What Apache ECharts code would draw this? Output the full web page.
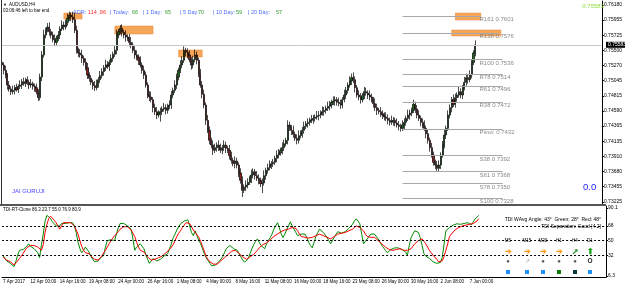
<!DOCTYPE html>
<html>
<head>
<meta charset="utf-8">
<script src="https://cdn.jsdelivr.net/npm/echarts@6/dist/echarts.min.js"></script>
<style>
html, body { margin: 0; padding: 0; background: #fff; }
#chart { width: 625px; height: 286px; }
</style>
</head>
<body>
<div id="chart"></div>
<script>
// AUDUSD H4, prices in pips (7528 -> 0.7528)
var firstOpen = 7532;
var closes = [
    7528,7520,7513,7498,7492,7488,7490,7494,7491,7496,
    7498,7503,7500,7506,7502,7498,7500,7496,7494,7488,
    7479,7510,7543,7573,7580,7585,7578,7573,7566,7562,
    7568,7573,7582,7588,7585,7592,7598,7603,7600,7596,
    7580,7550,7546,7543,7538,7532,7524,7513,7508,7502,
    7497,7494,7500,7506,7512,7518,7524,7528,7526,7532,
    7538,7544,7550,7573,7578,7583,7577,7573,7570,7568,
    7562,7558,7550,7543,7540,7535,7528,7520,7513,7498,
    7483,7480,7476,7464,7458,7453,7456,7458,7462,7464,
    7460,7466,7468,7483,7490,7498,7510,7520,7528,7535,
    7550,7547,7543,7536,7528,7536,7543,7535,7515,7498,
    7484,7468,7445,7430,7415,7408,7400,7404,7408,7404,
    7400,7404,7408,7403,7400,7392,7385,7380,7384,7378,
    7366,7355,7340,7345,7348,7352,7358,7363,7368,7362,
    7358,7355,7350,7351,7362,7370,7374,7378,7380,7382,
    7388,7393,7396,7400,7404,7410,7415,7438,7434,7430,
    7424,7418,7415,7422,7426,7430,7436,7440,7442,7445,
    7446,7448,7450,7452,7453,7456,7458,7460,7463,7466,
    7468,7472,7474,7476,7472,7470,7468,7476,7483,7490,
    7498,7504,7509,7506,7494,7483,7480,7476,7482,7488,
    7486,7483,7480,7476,7470,7464,7460,7458,7455,7453,
    7450,7448,7445,7442,7444,7445,7441,7438,7436,7433,
    7438,7442,7448,7453,7456,7460,7469,7462,7453,7448,
    7442,7438,7433,7425,7415,7404,7393,7382,7378,7373,
    7378,7393,7408,7423,7433,7453,7464,7476,7469,7479,
    7483,7488,7483,7494,7502,7509,7506,7513,7532,7546,
    7558
];
var upperWick = [
    5,4,7,3,6,4,7,4,6,3, 7,4,6,3,5,4,7,3,4,6, 4,5,6,8,4,6,7,4,5,8,
    4,6,4,7,5,4,7,5,4,8, 10,7,4,6,8,4,6,7,4,5, 4,7,6,4,7,5,4,8,6,4,
    6,4,7,8,4,5,6,4,7,4, 6,8,4,6,7,4,6,4,7,5, 4,6,8,4,6,7,4,6,4,7,
    5,4,7,6,4,7,5,4,7,6, 6,4,6,7,4,6,8,5,4,7, 6,7,4,8,6,4,7,6,4,7,
    6,4,7,5,4,8,6,4,7,5, 4,7,6,4,7,6,4,8,5,4, 7,6,4,7,8,4,6,7,4,5,
    4,7,6,4,8,6,4,7,5,4, 7,4,6,8,4,5,7,4,6,4, 7,5,4,7,6,4,8,5,4,7,
    6,4,7,5,4,7,6,4,8,5, 4,7,6,8,5,4,7,6,4,7, 6,4,7,5,4,8,6,4,7,5,
    4,7,6,4,8,5,4,7,6,4, 7,6,4,8,5,4,7,4,6,7, 4,6,7,4,6,4,7,5,4,6,
    7,4,6,8,4,7,5,4,8,6, 4,7,5,4,8,6,4,7,5,4, 7
];
var lowerWick = [
    4,6,5,7,4,5,4,6,3,5, 4,6,3,5,4,6,4,5,6,4, 5,4,6,4,5,3,6,5,4,6,
    5,4,6,3,5,4,5,4,6,5, 4,5,6,4,7,5,4,6,5,4, 6,5,4,6,5,4,6,5,4,7,
    4,5,4,6,5,4,6,5,7,4, 6,5,4,6,5,7,4,5,6,4, 5,6,4,7,5,6,4,13,5,4,
    6,5,4,6,5,4,6,5,4,5, 4,6,5,4,7,5,4,6,5,4, 6,5,7,4,6,5,7,4,6,5,
    4,6,5,7,4,6,5,4,7,5, 6,5,10,4,6,5,4,7,5,6, 4,6,5,14,4,6,5,4,6,5,
    4,6,5,4,6,5,4,6,5,7, 5,4,6,5,4,7,5,4,6,5, 4,6,5,4,7,5,4,6,5,4,
    6,5,4,7,5,4,6,5,4,6, 5,4,6,5,7,4,5,6,4,5, 4,6,5,4,6,5,7,4,5,6,
    5,4,6,5,4,7,5,4,6,5, 4,6,5,4,7,5,4,6,5,4, 6,5,4,7,5,6,4,5,6,4,
    5,6,4,5,6,4,5,7,4,5, 6,4,5,6,4,5,6,4,5,4, 5
];
// TDI-RT-Clone: green price line and red signal line
var tdiGreen = [
    32,28,25,23,22,20,18,24,32,38, 37,39,38,43,46,43,42,40,38,35,
    29,45,58,74,81,82,77,73,70.6,68, 70,68,71,72,71,73,72,74,72,68,
    60,48,40,35,38,42,41,36,31,27, 24,22,25,28,30,32,42,50,49,51,
    50,50,58,66,71,73,71,70,68,66, 64,52,38,42,44,46,46,40,33,27,
    22,24,28,26,25,25.7,27,29,31,33, 34,40,46,53.6,58,63,67,70.6,72,74,
    75,75.5,68,60,56,62,56,50,46,40, 34,29,25.7,22,19,18,20,22,24,25.7,
    30,35,40,42,44,42,40,39,38,34, 30,26,23.3,23.3,28,34,40,45,49,52,
    48,44,42,40,46,50,53.6,58,64,68, 72,66,58,53.6,58,63,68,73,68,64,
    60,56,57,58,58,58,54,48,44,41, 48,55,60,64,62,60,58,54,50,46,
    50,54,58,61,60,59,58,61,63,65, 66,70,74,76.7,74,70.6,58,46,49,52,
    55,58,60,58,56,52,48,44,41,38, 35,37,39,40,41,40,41,40,39,40,
    36,32,44,53.6,58,62,64,60,53.6,44, 34,31,30,28,26,24,23,22,21,23,
    29,45,62,64,66,68,69,70,70.6,71, 70,70.6,71,72,72,70,69.5,73,76.7,79,
    80.9
];
var tdiRed = [
    30,28,26,25,24,22,20,22,25,28, 30,34,38,41,43,44,44,44,44,42,
    40,38,45,60,70,77,80,78,75,72, 68,64,68,72,72,72,73,72,72,68,
    63,58,50,43,38,35,36,34,31,29, 27,26,26,28,31,35,38,42,46,50,
    53,56,58,61,64,66,67,68,67,65, 63,62,55,48,42,38,38,36,33,30,
    28,26,26,27,28,29,30,31,33,35, 37,39,41,45,50,55,59,62,66,69,
    72,73,71,67,63,60,58,54,49,43, 37,30,27,24,22,21,20,21,23,25,
    27,29,30,33,35,37,38,38,36,34, 32,30,28,27,28,30,31,33,34,38,
    41,43,45,46,47,49,51,53,55,56, 58,60,61,62,63,63,64,65,66,65,
    65,62,58,55,55,54,54,53,54,54, 55,56,57,58,57,56,55,54,53,52,
    53,55,57,58,58,59,59,60,61,62, 62,64,66,68,67,66,65,62,58,55,
    54,54,55,54,52,50,48,46,44,42, 40,39,38,38,39,39,40,40,39,38,
    38,38,39,40,43,46,48,50,51,52, 49,46,42,38,35,32,30,27,24,22,
    25,30,38,46,55,58,60,63,65,66, 67,68,68,69,69,70,70,71,72,74,
    76.9
];
var timeLabels = ['7 Apr 2017', '12 Apr 00:00', '14 Apr 16:00', '19 Apr 08:00', '24 Apr 00:00',
    '26 Apr 16:00', '1 May 08:00', '4 May 00:00', '8 May 16:00', '11 May 08:00', '16 May 00:00',
    '18 May 16:00', '23 May 08:00', '26 May 00:00', '30 May 16:00', '2 Jun 08:00', '7 Jun 00:00'];
var priceTicks = [0.73225, 0.73455, 0.73680, 0.73910, 0.74135, 0.74365, 0.74590,
    0.74815, 0.75045, 0.75270, 0.75500, 0.75725, 0.75955, 0.76180];
var tdiTicks = [6.3, 32, 50, 68, 90.1];
var tdiLevels = [68, 50, 32];
var lastPrice = 0.75583;
// daily pivot levels (bars where each line starts / ends)
var pivotNames = ['R161', 'R138', 'R100', 'R78', 'R61', 'R38', 'Pivot:', 'S38', 'S61', 'S78', 'S100'];
var pivotValues = [0.7601, 0.7576, 0.7536, 0.7514, 0.7496, 0.7472, 0.7432, 0.7392, 0.7368, 0.7350, 0.7328];
var pivotEnd = [263, 273, 275, 275, 275, 275, 275, 275, 275, 275, 275];
var pivotStart = 220;
// supply zones (orange boxes)
var zoneFrom = [34, 62, 97, 249, 247];
var zoneTo = [44, 83, 110, 263, 274];
var zoneTop = [0.7606, 0.75865, 0.75505, 0.7606, 0.75805];
var zoneBottom = [0.7597, 0.75745, 0.75400, 0.75955, 0.75715];
var slotCount = 330;

var chart = echarts.init(document.getElementById('chart'));

var slots = [];
for (var i = 0; i < slotCount; i++) slots.push(String(i));

var candles = [];
for (var i = 0; i < closes.length; i++) {
    var o = i === 0 ? firstOpen : closes[i - 1];
    var c = closes[i];
    var h = Math.max(o, c) + upperWick[i];
    var l = Math.min(o, c) - lowerWick[i];
    candles.push([o / 10000, c / 10000, l / 10000, h / 10000]);
}

function isLabelBar(i) {
    return i === 0 || (i >= 15 && i <= 255 && (i - 15) % 16 === 0);
}
function labelFor(i) {
    return i === 0 ? timeLabels[0] : timeLabels[(i - 15) / 16 + 1];
}

var pivotLines = pivotValues.map(function (v, k) {
    return [{ coord: [pivotStart, v] }, { coord: [pivotEnd[k], v] }];
});
// current price line across the whole chart
pivotLines.push([
    { coord: [0, lastPrice], lineStyle: { color: '#c8c8c8' } },
    { coord: [slotCount - 1, lastPrice] }
]);
var pivotLabels = pivotValues.map(function (v, k) {
    return { name: pivotNames[k] + ' ' + v.toFixed(4), coord: [262, v] };
});
var zones = zoneFrom.map(function (f, k) {
    return [{ coord: [f, zoneTop[k]] }, { coord: [zoneTo[k], zoneBottom[k]] }];
});

var FONT = '"Liberation Sans", Arial, sans-serif';
function txt(x, y, text, size, color, align, bold) {
    return {
        type: 'text', x: x, y: y, z: 100,
        style: {
            text: text, fill: color, align: align || 'left', verticalAlign: 'middle',
            font: (bold ? 'bold ' : '') + size + 'px ' + FONT
        }
    };
}
function sq(cx, cy, color) {
    return { type: 'rect', z: 100, shape: { x: cx - 2, y: cy - 2, width: 4, height: 4 }, style: { fill: color } };
}

var blue = '#4b6bfb', red = '#ff2a2a', green = '#34a034';
var tfX = [508, 527, 543, 559, 575, 590];
var tfNames = ['M5', 'M15', 'M30', 'H1', 'H4', 'D1'];

var graphics = [
    { type: 'line', z: 100, shape: { x1: 1.5, y1: 0, x2: 1.5, y2: 204 }, style: { stroke: '#333', lineWidth: 1 } },
    { type: 'rect', z: 101, shape: { x: 0, y: 204, width: 606, height: 2 }, style: { fill: '#555' } },
    txt(3, 5, '\u25BC', 4, '#000'),
    txt(9, 5, 'AUDUSD,H4', 4.5, '#000'),
    txt(3, 11, '03:06:46 left to bar end', 4.5, '#000'),
    txt(73, 12, 'ADR:', 5.5, blue),
    txt(88, 12, '114 ,96', 5.5, red),
    txt(110, 12, '| Today:', 5.5, blue),
    txt(132, 12, '66', 5.5, green),
    txt(143, 12, '| 1 Day:', 5.5, blue),
    txt(165, 12, '65', 5.5, green),
    txt(180, 12, '| 5 Day:', 5.5, blue),
    txt(198, 12, '70', 5.5, green),
    txt(213, 12, '| 10 Day:', 5.5, blue),
    txt(236, 12, '59', 5.5, green),
    txt(248, 12, '| 20 Day:', 5.5, blue),
    txt(276, 12, '57', 5.5, green),
    txt(604, 6, '0.75583', 6, '#8fdc3c', 'right'),
    txt(12, 191, 'JAI GURUJI', 6, '#4a4aff'),
    txt(583, 187, '0.0', 9.5, '#1a1aff'),
    txt(3, 210, 'TDI-RT-Clone 86.3 23.7 55.0 76.9 80.9', 4.5, '#000'),
    txt(601, 220, 'TDI WAvg Angle: 43\u00B0  Green: 28\u00B0  Red: 48\u00B0', 5, '#000', 'right'),
    txt(601, 227, 'TDI Separation: Good [4.2]', 5, '#000', 'right')
];
tfNames.forEach(function (n, k) {
    graphics.push(txt(tfX[k], 241, n, 4.5, '#000', 'center'));
});
var arrows = ['\u2794', '\u2794', '\u2794', '\u2794', '\u279A', '\u2B06'];
var arrowColors = ['#ff9a1a', '#ff9a1a', '#ff9a1a', '#ff9a1a', '#1a8a1a', '#12a012'];
var dots = ['\u25CF', '\u2197', '\u25CF', '\u25CF', '\u25CF', 'O'];
var dotColors = ['#555', '#999', '#555', '#555', '#555', '#222'];
var boxColors = ['#1e8fff', '#1e8fff', '#1e8fff', '#0a7a0a', '#0d3a3a', '#1e8fff'];
tfX.forEach(function (x, k) {
    graphics.push(txt(x, 251.5, arrows[k], 8, arrowColors[k], 'center', true));
    graphics.push(txt(x, 261, dots[k], k === 5 ? 6.5 : 6, dotColors[k], 'center', k === 5));
    graphics.push(sq(x, 272, boxColors[k]));
});

var option = {
    animation: false,
    backgroundColor: '#fff',
    textStyle: { fontFamily: FONT },
    grid: [
        { left: 1, right: 19, top: 1, height: 203 },
        { left: 1, right: 19, top: 206, height: 71 }
    ],
    xAxis: [
        { type: 'category', gridIndex: 0, data: slots, show: false },
        {
            type: 'category', gridIndex: 1, data: slots,
            axisLine: { lineStyle: { color: '#000', width: 1 } },
            axisTick: { alignWithLabel: true, interval: isLabelBar, length: 2, lineStyle: { color: '#000' } },
            axisLabel: {
                interval: isLabelBar, align: 'left', margin: 2, fontSize: 4.5, color: '#000',
                formatter: function (v, idx) { return labelFor(idx); }
            },
            splitLine: { show: false }
        }
    ],
    yAxis: [
        {
            type: 'value', gridIndex: 0, position: 'right', min: 0.73195, max: 0.7624,
            axisLine: { show: true, lineStyle: { color: '#000' } },
            axisTick: { show: true, length: 2, customValues: priceTicks, lineStyle: { color: '#000' } },
            axisLabel: {
                customValues: priceTicks, fontSize: 5, margin: 2, color: '#000',
                formatter: function (v) { return v.toFixed(5); }
            },
            splitLine: { show: false }
        },
        {
            type: 'value', gridIndex: 1, position: 'right', min: 5.2, max: 92.5,
            axisLine: { show: true, lineStyle: { color: '#000' } },
            axisTick: { show: true, length: 2, customValues: tdiTicks, lineStyle: { color: '#000' } },
            axisLabel: {
                customValues: tdiTicks, fontSize: 5, margin: 2, color: '#000',
                formatter: function (v) { return String(v); }
            },
            splitLine: { show: false }
        }
    ],
    series: [
        {
            type: 'candlestick', xAxisIndex: 0, yAxisIndex: 0,
            data: candles, barWidth: 1.6,
            itemStyle: {
                color: '#1f6e1f', color0: '#8c1c1c',
                borderColor: '#000', borderColor0: '#000', borderWidth: 0.7
            },
            markArea: {
                silent: true,
                itemStyle: { color: 'rgba(245,150,60,0.85)', borderColor: '#e8873a', borderWidth: 0.5 },
                data: zones
            },
            markLine: {
                silent: true, symbol: ['none', 'none'],
                lineStyle: { color: '#a8a8a8', width: 1, type: 'solid' },
                label: { show: false },
                data: pivotLines
            },
            markPoint: {
                silent: true, symbol: 'circle', symbolSize: 1,
                itemStyle: { color: 'rgba(0,0,0,0)' },
                label: {
                    show: true, position: 'right', distance: 0, offset: [0, 3.5],
                    fontSize: 6, color: '#8a8a8a', formatter: function (p) { return p.name; }
                },
                data: pivotLabels
            }
        },
        {
            type: 'line', xAxisIndex: 1, yAxisIndex: 1, data: tdiGreen,
            symbol: 'none', lineStyle: { color: '#008a00', width: 1 },
            markLine: {
                silent: true, symbol: ['none', 'none'],
                lineStyle: { color: '#000', width: 1, type: [2, 2] },
                label: { show: false },
                data: tdiLevels.map(function (v) { return { yAxis: v }; })
            }
        },
        {
            type: 'line', xAxisIndex: 1, yAxisIndex: 1, data: tdiRed,
            symbol: 'none', lineStyle: { color: '#ff0000', width: 1 }
        }
    ],
    graphic: graphics
};
chart.setOption(option);

// current price box on the price axis, placed through the axis scale
var pricePx = chart.convertToPixel({ yAxisIndex: 0 }, lastPrice);
graphics.push({ type: 'rect', z: 102, shape: { x: 606, y: pricePx - 3, width: 19, height: 6 }, style: { fill: '#000' } });
graphics.push(txt(608, pricePx, lastPrice.toFixed(5), 5, '#fff'));
graphics[graphics.length - 1].z = 103;
chart.setOption({ graphic: graphics });
</script>
</body>
</html>
